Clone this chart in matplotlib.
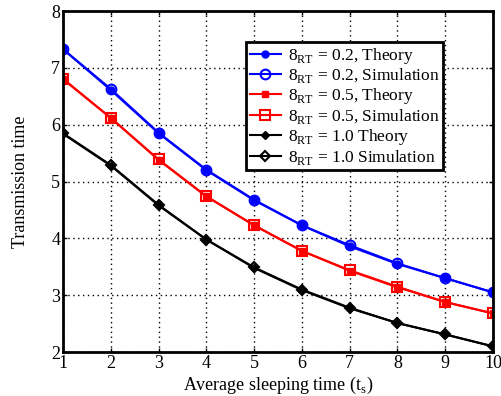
import matplotlib
matplotlib.use("Agg")
import matplotlib.pyplot as plt

plt.rcParams["font.family"] = ["Liberation Serif", "DejaVu Serif"]
plt.rcParams["mathtext.fontset"] = "custom"
plt.rcParams["mathtext.rm"] = "Liberation Serif"

# average sleeping time
ts = [1, 2, 3, 4, 5, 6, 7, 8, 9, 10]

# transmission time
theory_02 = [7.33, 6.61, 5.85, 5.20, 4.67, 4.23, 3.86, 3.55, 3.30, 3.05]
sim_02 = [7.33, 6.63, 5.86, 5.21, 4.68, 4.23, 3.88, 3.56, 3.30, 3.05]
theory_05 = [6.80, 6.12, 5.38, 4.74, 4.23, 3.78, 3.43, 3.14, 2.88, 2.68]
sim_05 = [6.81, 6.12, 5.39, 4.74, 4.23, 3.78, 3.44, 3.15, 2.88, 2.68]
theory_10 = [5.84, 5.28, 4.58, 3.98, 3.48, 3.09, 2.77, 2.51, 2.31, 2.10]
sim_10 = [5.85, 5.29, 4.59, 3.98, 3.49, 3.10, 2.78, 2.51, 2.31, 2.10]

fig = plt.figure(figsize=(5.02, 3.96), dpi=100)
ax = fig.add_axes([0.1255, 0.111, 0.8565, 0.861])

ax.plot(ts, theory_02, color="blue", lw=1.5, marker="o", ms=5,
        label=r"8$_{\rm RT}$ = 0.2, Theory")
ax.plot(ts, sim_02, color="blue", lw=1.5, marker="o", ms=7, mfc="none", mew=1.5,
        label=r"8$_{\rm RT}$ = 0.2, Simulation")
ax.plot(ts, theory_05, color="red", lw=1.5, marker="s", ms=4,
        label=r"8$_{\rm RT}$ = 0.5, Theory")
ax.plot(ts, sim_05, color="red", lw=1.5, marker="s", ms=6.5, mfc="none", mew=1.5,
        label=r"8$_{\rm RT}$ = 0.5, Simulation")
ax.plot(ts, theory_10, color="black", lw=1.5, marker="D", ms=4,
        label=r"8$_{\rm RT}$ = 1.0 Theory")
ax.plot(ts, sim_10, color="black", lw=1.5, marker="D", ms=5.5, mfc="none", mew=1.5,
        label=r"8$_{\rm RT}$ = 1.0 Simulation")

ax.set_xlim(1, 10)
ax.set_ylim(2, 8)
ax.set_xticks(ts)
ax.set_yticks([2, 3, 4, 5, 6, 7, 8])
ax.tick_params(direction="in", labelsize=13, width=1, length=3, pad=2,
               top=True, right=True)
ax.grid(True, color="black", linestyle=(0, (1, 2.5)), linewidth=1)
for s in ax.spines.values():
    s.set_linewidth(2)

ax.set_xlabel("Average sleeping time (t$_{\\rm s}$)", fontsize=13, labelpad=2)
ax.set_ylabel("Transmission time", fontsize=13, labelpad=16)

leg = ax.legend(loc="upper right", bbox_to_anchor=(0.884, 0.909), borderaxespad=0,
                fontsize=12.5, fancybox=False, framealpha=1, edgecolor="black",
                handlelength=1.8, handletextpad=0.4, labelspacing=0.05,
                borderpad=0.2)
leg.get_frame().set_linewidth(2)

fig.savefig("out.png", dpi=100)
